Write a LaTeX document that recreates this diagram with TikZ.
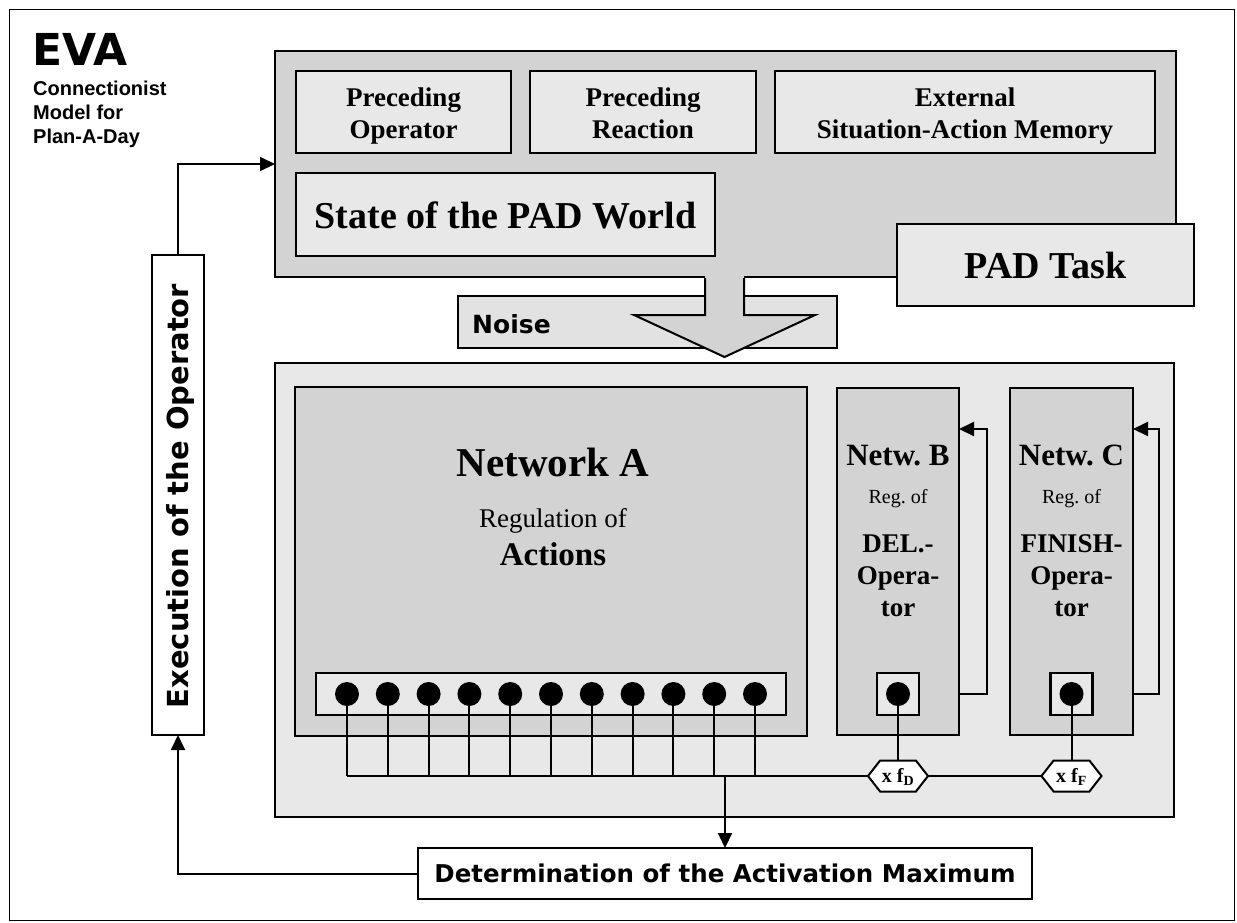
\documentclass[tikz,border=0pt]{standalone}
\usepackage{fontspec}
\setmainfont{Liberation Serif}
\newfontfamily\dvs{DejaVu Sans}
\newfontfamily\lsans{Liberation Sans}
\usetikzlibrary{arrows.meta,shapes.symbols}
\definecolor{dg}{HTML}{D3D3D3}
\definecolor{lg}{HTML}{E8E8E8}
\definecolor{nz}{HTML}{E2E2E2}
\newcommand\fsz[2]{\fontsize{#1}{#2}\selectfont}
\frenchspacing
\begin{document}
\begin{tikzpicture}[x=1pt,y=-1pt,
  box/.style={draw, line width=2.4pt, inner sep=0pt, outer sep=0pt},
  conn/.style={line width=2pt},
  tip/.style={-{Triangle[length=15pt,width=14pt]}},
  dot/.style={circle, fill=black, minimum size=24pt, inner sep=0pt, outer sep=0pt},
  hexa/.style={draw, line width=2pt, fill=white, signal, signal to=west and east,
    signal pointer angle=104, minimum width=60pt, minimum height=31pt, inner sep=0pt, outer sep=0pt},
  tl/.style={anchor=base, inner sep=0pt}
]
\useasboundingbox (0,0) rectangle (1237,922);
\draw[line width=1pt] (9,9) rectangle (1234,920);

% title
\node[anchor=base west, inner sep=0pt, font=\dvs\bfseries\fsz{44}{44}] (eva) at (32,65) {EVA};
\node[anchor=base west, inner sep=0pt, font=\lsans\bfseries\fsz{20}{24}] (t1) at (33,95) {Connectionist};
\node[anchor=base west, inner sep=0pt, font=\lsans\bfseries\fsz{20}{24}] (t2) at (33,119) {Model for};
\node[anchor=base west, inner sep=0pt, font=\lsans\bfseries\fsz{20}{24}] (t3) at (33,143) {Plan-A-Day};

% top box
\node[box, fill=dg, minimum width=901pt, minimum height=226pt] (top) at (725.5,164) {};
\node[box, fill=lg, minimum width=215pt, minimum height=82pt] (po) at (403.5,112) {};
\node[tl, font=\bfseries\fsz{27}{32}] at (403.5,106) {Preceding};
\node[tl, font=\bfseries\fsz{27}{32}] at (403.5,138) {Operator};
\node[box, fill=lg, minimum width=226pt, minimum height=82pt] (pr) at (643,112) {};
\node[tl, font=\bfseries\fsz{27}{32}] at (643,106) {Preceding};
\node[tl, font=\bfseries\fsz{27}{32}] at (643,138) {Reaction};
\node[box, fill=lg, minimum width=380pt, minimum height=82pt] (ext) at (965,112) {};
\node[tl, font=\bfseries\fsz{27}{32}] at (965,106) {External};
\node[tl, font=\bfseries\fsz{27}{32}] at (965,138) {Situation-Action Memory};
\node[box, fill=lg, minimum width=419pt, minimum height=83pt] (state) at (505.5,214.5) {};
\node[tl, font=\bfseries\fsz{38}{38}] at (505.5,228) {State of the PAD World};
\node[box, fill=lg, minimum width=297pt, minimum height=82pt] (task) at (1045.5,265) {};
\node[tl, font=\bfseries\fsz{38}{38}] at (1045.5,278) {PAD Task};

% noise and big arrow
\node[box, fill=nz, minimum width=379pt, minimum height=52pt] (noise) at (647.5,322) {};
\node[anchor=base west, inner sep=0pt, font=\dvs\bfseries\fsz{25}{25}] at (472,333) {Noise};
\fill[dg] (705,274.5) -- (705,315) -- (634,315) -- (724.5,357) -- (815,315) -- (744,315) -- (744,274.5) -- cycle;
\draw[line width=2pt, line join=miter] (705,278) -- (705,315) -- (634,315) -- (724.5,357) -- (815,315) -- (744,315) -- (744,278);

% bottom box
\node[box, fill=lg, minimum width=899pt, minimum height=454pt] (bot) at (724.5,590) {};
\node[box, fill=dg, minimum width=512pt, minimum height=349pt] (na) at (551,561.5) {};
\node[tl, font=\bfseries\fsz{41}{41}] at (553,476) {Network A};
\node[tl, font=\fsz{27}{27}] at (553,527) {Regulation of};
\node[tl, font=\bfseries\fsz{33}{33}] at (553,565) {Actions};
\node[box, fill=lg, minimum width=470pt, minimum height=42pt] (bar) at (551,694) {};

\node[box, fill=dg, minimum width=122pt, minimum height=347pt] (nb) at (898,561.5) {};
\node[tl, font=\bfseries\fsz{31}{31}] at (898,465) {Netw. B};
\node[tl, font=\fsz{20}{20}] at (898,503) {Reg. of};
\node[tl, font=\bfseries\fsz{27}{27}] at (898,552) {DEL.-};
\node[tl, font=\bfseries\fsz{27}{27}] at (898,584) {Opera-};
\node[tl, font=\bfseries\fsz{27}{27}] at (898,616) {tor};
\node[box, fill=lg, minimum width=42pt, minimum height=42pt] (sqb) at (898,694) {};

\node[box, fill=dg, minimum width=123pt, minimum height=347pt] (nc) at (1071.5,561.5) {};
\node[tl, font=\bfseries\fsz{31}{31}] at (1071.5,465) {Netw. C};
\node[tl, font=\fsz{20}{20}] at (1071.5,503) {Reg. of};
\node[tl, font=\bfseries\fsz{27}{27}] at (1071.5,552) {FINISH-};
\node[tl, font=\bfseries\fsz{27}{27}] at (1071.5,584) {Opera-};
\node[tl, font=\bfseries\fsz{27}{27}] at (1071.5,616) {tor};
\node[box, fill=lg, minimum width=42pt, minimum height=42pt] (sqc) at (1071.5,694) {};

% feedback loops
\coordinate (lb) at (987,429);
\coordinate (lc) at (1159,429);
\draw[conn,tip] (sqb -| nb.east) -| (lb) -- (lb -| nb.east);
\draw[conn,tip] (sqc -| nc.east) -| (lc) -- (lc -| nc.east);

% hexagons
\node[hexa] (hd) at (898,776) {};
\node[font=\bfseries\fsz{20}{20}, inner sep=0pt] at (898,777) {x f\textsubscript{D}};
\node[hexa] (hf) at (1071.5,776) {};
\node[font=\bfseries\fsz{20}{20}, inner sep=0pt] at (1071.5,777) {x f\textsubscript{F}};

% dots and bus
\coordinate (bus) at (0,776);
\foreach \i in {0,...,10} {
  \node[dot] (a\i) at ({347+40.8*\i},694) {};
  \draw[conn] (a\i.south) -- (a\i |- bus);
}
\draw[conn] (a0 |- bus) -- (hd.west);
\draw[conn] (hd.east) -- (hf.west);
\node[dot] (db) at (898,694) {};
\node[dot] (dc) at (1071.5,694) {};
\draw[conn] (db.south) -- (hd.north);
\draw[conn] (dc.south) -- (hf.north);

% determination and execution
\node[box, fill=white, minimum width=614pt, minimum height=51pt, font=\dvs\bfseries\fsz{24.5}{24.5}] (det) at (725,873.5) {Determination of the Activation Maximum};
\coordinate (tap) at (725,776);
\draw[conn,tip] (tap) -- (det.north);
\node[box, fill=white, minimum width=52pt, minimum height=480pt] (exec) at (178,495) {};
\node[rotate=90, inner sep=0pt, font=\dvs\bfseries\fsz{29}{29}] at (180,496) {Execution of the Operator};
\draw[conn,tip] (exec.north) |- (top.west);
\draw[conn,tip] (det.west) -| (exec.south);
\end{tikzpicture}
\end{document}
